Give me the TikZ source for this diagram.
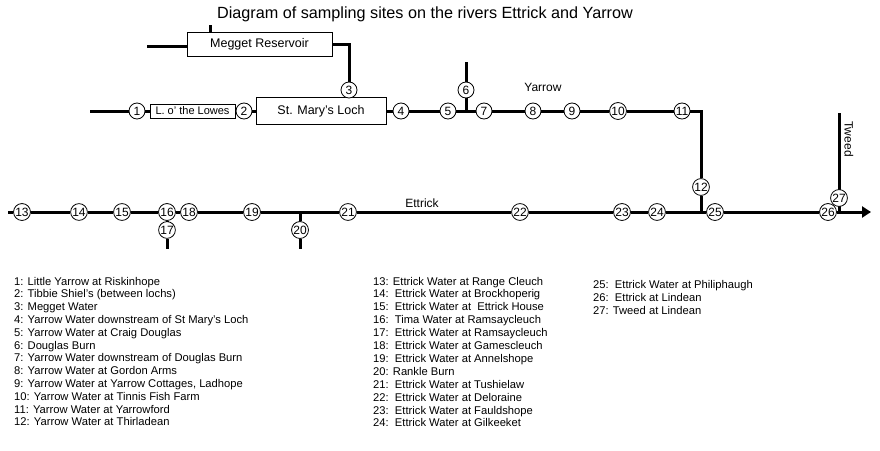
\documentclass[tikz,border=0pt]{standalone}
\usepackage{fontspec}
\setmainfont{Liberation Sans}
\usetikzlibrary{arrows.meta}
\begin{document}
\begin{tikzpicture}[x=1pt,y=-1pt,
  river/.style={line width=3pt},
  site/.style={circle,draw,fill=white,line width=0.8pt,inner sep=0.4pt,minimum size=16pt,font=\fontsize{12}{13}\selectfont},
  lake/.style={draw,fill=white,line width=0.8pt,inner sep=0pt},
  lbl/.style={inner sep=0pt,font=\fontsize{12}{14}\selectfont},
  leg/.style={anchor=base west,inner sep=0pt,font=\fontsize{11.2}{13}\selectfont}]
\useasboundingbox (0,0) rectangle (880,450);
% title
\node[inner sep=0pt,font=\fontsize{16.2}{18}\selectfont] (title) at (425,14) {Diagram of sampling sites on the rivers Ettrick and Yarrow};
% lakes
\node[lake,minimum width=145pt,minimum height=24pt,font=\fontsize{12.5}{14}\selectfont] (meg) at (259.5,44) {Megget Reservoir};
\node[lake,minimum width=85pt,minimum height=14pt,font=\fontsize{11}{12}\selectfont] (lowes) at (192.5,111) {L. o' the Lowes};
\node[lake,minimum width=130pt,minimum height=27pt,font=\fontsize{12.5}{14}\selectfont] (loch) at (321,111) {St. Mary's Loch};
% coordinates
\coordinate (mL) at (147,46);
\coordinate (mT) at (210,25);
\coordinate (mR) at (349,44);
\coordinate (y0) at (90,111);
\coordinate (j6) at (466,111);
\coordinate (t6) at (466,62);
\coordinate (k11) at (701,111);
\coordinate (j25) at (701,212);
\coordinate (e0) at (8,212);
\coordinate (j20) at (300,212);
\coordinate (b17) at (167,249);
\coordinate (b20) at (300,249);
\coordinate (tw) at (839,113);
\coordinate (j27) at (839,212);
\coordinate (eEnd) at (871,212);
% sites
\node[site] (s1) at (137,111) {1};
\node[site] (s2) at (244,111) {2};
\node[site] (s3) at (349,90) {3};
\node[site] (s4) at (401,111) {4};
\node[site] (s5) at (448,111) {5};
\node[site] (s6) at (466,90) {6};
\node[site] (s7) at (484,111) {7};
\node[site] (s8) at (533,111) {8};
\node[site] (s9) at (572,111) {9};
\node[site] (s10) at (618,111) {10};
\node[site] (s11) at (682,111) {11};
\node[site] (s12) at (701,187) {12};
\node[site] (s13) at (22,212) {13};
\node[site] (s14) at (79,212) {14};
\node[site] (s15) at (122,212) {15};
\node[site] (s16) at (167,212) {16};
\node[site] (s17) at (167,230) {17};
\node[site] (s18) at (189,212) {18};
\node[site] (s19) at (252,212) {19};
\node[site] (s20) at (300,230) {20};
\node[site] (s21) at (348,212) {21};
\node[site] (s22) at (520,212) {22};
\node[site] (s23) at (622,212) {23};
\node[site] (s24) at (657,212) {24};
\node[site] (s25) at (715,212) {25};
\node[site] (s26) at (828,212) {26};
% rivers
\draw[river] (mT) -- (mT |- meg.north);
\draw[river] (mL) -- (mL -| meg.west);
\draw[river] (meg.east) -- (mR) -- (s3);
\draw[river] (y0) -- (s1);
\draw[river] (s1) -- (lowes);
\draw[river] (lowes) -- (s2);
\draw[river] (s2) -- (loch);
\draw[river] (loch) -- (s4);
\draw[river] (s4) -- (s5);
\draw[river] (s5) -- (j6) -- (s7);
\draw[river] (t6) -- (s6);
\draw[river] (s6) -- (j6);
\draw[river] (s7) -- (s8);
\draw[river] (s8) -- (s9);
\draw[river] (s9) -- (s10);
\draw[river] (s10) -- (s11);
\draw[river] (s11) -- (k11) -- (s12);
\draw[river] (s12) -- (j25);
\draw[river] (e0) -- (s13);
\draw[river] (s13) -- (s14);
\draw[river] (s14) -- (s15);
\draw[river] (s15) -- (s16);
\draw[river] (s16) -- (s18);
\draw[river] (s16) -- (s17);
\draw[river] (s17) -- (b17);
\draw[river] (s18) -- (s19);
\draw[river] (s19) -- (j20) -- (s21);
\draw[river] (j20) -- (s20);
\draw[river] (s20) -- (b20);
\draw[river] (s21) -- (s22);
\draw[river] (s22) -- (s23);
\draw[river] (s23) -- (s24);
\draw[river] (s24) -- (j25) -- (s25);
\draw[river] (s25) -- (s26);
\draw[river,-{Triangle[length=9pt,width=11pt]}] (s26) -- (eEnd);
\draw[river] (tw) -- (j27);
\node[site] (s27) at (839,198) {27};
% river names
\node[lbl] (yarrow) at (543,87) {Yarrow};
\node[lbl] (ettrick) at (422,203) {Ettrick};
\node[lbl,rotate=-90] (tweed) at (849,139) {Tweed};
% legend
\foreach \t [count=\i] in {
  {1: Little Yarrow at Riskinhope},
  {2: Tibbie Shiel's (between lochs)},
  {3: Megget Water},
  {4: Yarrow Water downstream of St Mary's Loch},
  {5: Yarrow Water at Craig Douglas},
  {6: Douglas Burn},
  {7: Yarrow Water downstream of Douglas Burn},
  {8: Yarrow Water at Gordon Arms},
  {9: Yarrow Water at Yarrow Cottages, Ladhope},
  {10: Yarrow Water at Tinnis Fish Farm},
  {11: Yarrow Water at Yarrowford},
  {12: Yarrow Water at Thirladean}}
  \node[leg] (la\i) at (14,{285+12.8*(\i-1)}) {\t};
\foreach \t [count=\i] in {
  {13: Ettrick Water at Range Cleuch},
  {14:\ \ Ettrick Water at Brockhoperig},
  {15:\ \ Ettrick Water at\ \ Ettrick House},
  {16:\ \ Tima Water at Ramsaycleuch},
  {17:\ \ Ettrick Water at Ramsaycleuch},
  {18:\ \ Ettrick Water at Gamescleuch},
  {19:\ \ Ettrick Water at Annelshope},
  {20: Rankle Burn},
  {21:\ \ Ettrick Water at Tushielaw},
  {22:\ \ Ettrick Water at Deloraine},
  {23:\ \ Ettrick Water at Fauldshope},
  {24:\ \ Ettrick Water at Gilkeeket}}
  \node[leg] (lb\i) at (373,{285+12.9*(\i-1)}) {\t};
\foreach \t [count=\i] in {
  {25:\ \ Ettrick Water at Philiphaugh},
  {26:\ \ Ettrick at Lindean},
  {27: Tweed at Lindean}}
  \node[leg] (lc\i) at (593,{288+13*(\i-1)}) {\t};
\end{tikzpicture}
\end{document}
